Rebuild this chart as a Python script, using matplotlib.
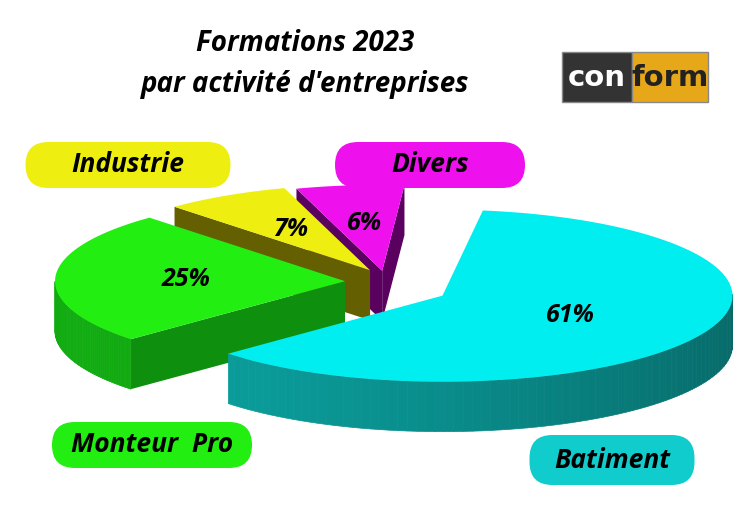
import numpy as np
import matplotlib
matplotlib.use("Agg")
import matplotlib.pyplot as plt
from matplotlib.patches import Polygon, FancyBboxPatch
import matplotlib.colors as mcolors

labels = ["Batiment", "Monteur  Pro", "Industrie", "Divers"]
values = [61, 25, 7, 6]
top_colors = ["#00eef0", "#22ee11", "#eeee11", "#ee11ee"]
wall_colors = ["#0a9a98", "#11a811", "#767000", "#6a0070"]
explode = [65, 40, 30, 25]

cx, cy = 385, 282
rx, ry, depth = 290, 86, 50
start = 82.0

fig = plt.figure(figsize=(7.5, 5.3), dpi=100)
ax = fig.add_axes([0, 0, 1, 1])
ax.set_xlim(0, 750)
ax.set_ylim(530, 0)
ax.axis("off")

slices = []
a = start
for lab, v, tc, wc, ex in zip(labels, values, top_colors, wall_colors, explode):
    a2 = a - v * 3.6
    mid = np.radians((a + a2) / 2)
    dx, dy = ex * np.cos(mid), -ex * 0.45 * np.sin(mid)
    slices.append((lab, a, a2, tc, wc, dx, dy, mid))
    a = a2

def pt(t, dx, dy, h=0):
    return (cx + dx + rx * np.cos(t), cy + dy - ry * np.sin(t) + h)

# back slices first
order = sorted(range(len(slices)), key=lambda i: slices[i][6] - 40 * np.sin(slices[i][7]))
for i in order:
    lab, a1, a2, tc, wc, dx, dy, mid = slices[i]
    t = np.radians(np.linspace(a2, a1, 120))
    c0 = (cx + dx, cy + dy)
    base = np.array(mcolors.to_rgb(wc))
    # radial walls
    for ang, nrm in ((a1, a1 + 90), (a2, a2 - 90)):
        if np.sin(np.radians(nrm)) < 0.05:
            p = pt(np.radians(ang), dx, dy)
            ax.add_patch(Polygon([c0, p, (p[0], p[1] + depth), (c0[0], c0[1] + depth)],
                                 closed=True, fc=base * 0.85, ec="none"))
    # outer wall, front part, shaded segments
    for k in range(len(t) - 1):
        tm = (t[k] + t[k + 1]) / 2
        if np.sin(tm) > 0:
            continue
        p1, p2 = pt(t[k], dx, dy), pt(t[k + 1], dx, dy)
        shade = 0.85 + 0.175 * np.cos(tm - np.radians(200))
        col = np.clip(base * shade, 0, 1)
        ax.add_patch(Polygon([p1, p2, (p2[0], p2[1] + depth), (p1[0], p1[1] + depth)],
                             closed=True, fc=col, ec=col, lw=0.5))
    top = [c0] + [pt(tt, dx, dy) for tt in t]
    ax.add_patch(Polygon(top, closed=True, fc=tc, ec="none"))
    fr = 0.55 if lab != "Batiment" else 0.5
    ax.text(cx + dx + fr * rx * np.cos(mid), cy + dy - fr * ry * np.sin(mid),
            f"{values[i]}%", fontsize=18, fontweight="bold", style="italic",
            family="Open Sans", ha="center", va="center")

# category boxes
boxes = [(612, 460, 165, 50), (152, 445, 200, 46), (128, 165, 205, 46), (430, 165, 190, 46)]
for (bx, by, w, h), lab, tc in zip(boxes, labels, top_colors):
    col = "#10cccc" if lab == "Batiment" else tc
    ax.add_patch(FancyBboxPatch((bx - w / 2, by - h / 2), w, h,
                                boxstyle="round,pad=0,rounding_size=23", fc=col, ec="none"))
    ax.text(bx, by, lab, fontsize=19, fontweight="bold", style="italic",
            family="Open Sans", ha="center", va="center")

ax.text(305, 64, "Formations 2023\npar activité d'entreprises", fontsize=20,
        fontweight="bold", style="italic", family="Open Sans", ha="center",
        va="center", linespacing=1.55)

# logo
ax.add_patch(Polygon([(562, 52), (632, 52), (632, 102), (562, 102)], fc="#333333", ec="#888888"))
ax.add_patch(Polygon([(632, 52), (708, 52), (708, 102), (632, 102)], fc="#e6a818", ec="#888888"))
ax.text(597, 78, "con", color="white", fontsize=21, fontweight="bold",
        family="DejaVu Sans", ha="center", va="center")
ax.text(670, 78, "form", color="#222222", fontsize=21, fontweight="bold",
        family="DejaVu Sans", ha="center", va="center")

fig.savefig("out.png", dpi=100)
